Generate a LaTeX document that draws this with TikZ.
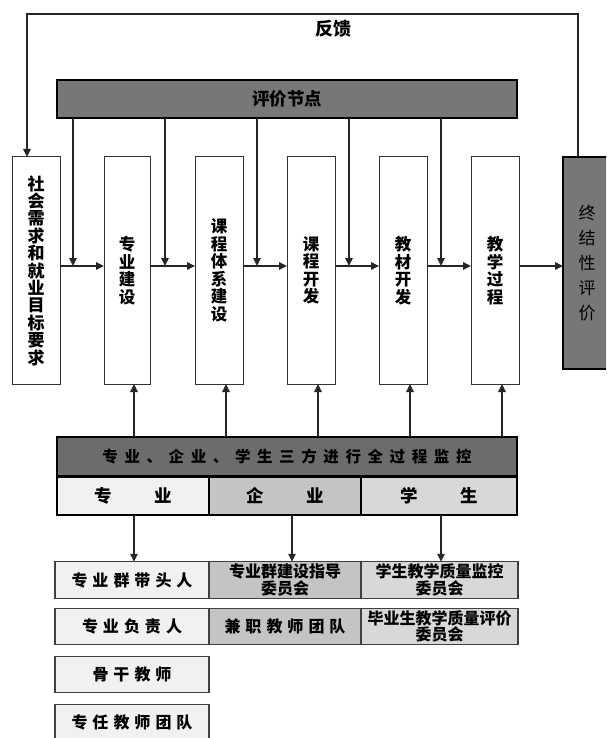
\documentclass[tikz,border=0pt]{standalone}
\usepackage{fontspec}
\setmainfont{Noto Sans CJK SC}
\usetikzlibrary{arrows.meta}
\definecolor{bardark}{HTML}{777777}
\definecolor{monidark}{HTML}{6C6C6C}
\definecolor{colA}{HTML}{F1F1F1}
\definecolor{colB}{HTML}{C4C4C4}
\definecolor{colC}{HTML}{D8D8D8}
\newcommand\spc[2]{\def\spcgap{#1}\spcloop#2\spcend}
\def\spcloop#1#2\spcend{#1\ifx\relax#2\relax\else\hspace{\spcgap}\spcloop#2\spcend\fi}
\begin{document}
\begin{tikzpicture}[x=1pt,y=-1pt,
  every node/.style={inner sep=0pt,outer sep=0pt},
  conn/.style={draw=black!85,line width=1.1pt,-{Triangle[length=8pt,width=7.5pt]}},
  vbox/.style={draw=black!80,line width=1pt,fill=white,minimum width=48pt,minimum height=227pt,align=center,font=\fontsize{16.5}{17.5}\selectfont\bfseries},
  darkbar/.style={draw=black,line width=2.5pt,minimum width=460pt,minimum height=38pt,font=\fontsize{17.5}{20}\selectfont\bfseries},
  subbox/.style={draw=black,line width=2pt,minimum height=38pt,font=\fontsize{17.5}{18}\selectfont\bfseries},
  cell/.style={draw=black!75,line width=1.2pt,minimum height=36.5pt,align=center,font=\fontsize{16}{16.5}\selectfont\bfseries},
  lbl/.style={font=\fontsize{18}{20}\selectfont\bfseries}]
\clip (0,0) rectangle (606,738);
\fill[white] (0,0) rectangle (606,738);
% coordinates
\coordinate (hy) at (0,266);
\coordinate (fbR) at (578,14);
\coordinate (fbL) at (27,14);
\coordinate (d1) at (73,266);
\coordinate (d2) at (165,266);
\coordinate (d3) at (257,266);
\coordinate (d4) at (349,266);
\coordinate (d5) at (441,266);
\coordinate (u1) at (134,0);
\coordinate (u2) at (226,0);
\coordinate (u3) at (318,0);
\coordinate (u4) at (410,0);
\coordinate (u5) at (502,0);
\coordinate (v2) at (292,0);
\coordinate (v3) at (441,0);
% top bar
\node[darkbar,fill=bardark] (T) at (287,99) {评价节点};
% process boxes
\node[vbox,font=\fontsize{17}{17.4}\selectfont\bfseries] (A) at (36,270.5) {社\\会\\需\\求\\和\\就\\业\\目\\标\\要\\求};
\node[vbox,minimum width=46pt] (B) at (127,270.5) {专\\业\\建\\设};
\node[vbox] (C) at (219,270.5) {课\\程\\体\\系\\建\\设};
\node[vbox] (D) at (311,270.5) {课\\程\\开\\发};
\node[vbox] (E) at (403,270.5) {教\\材\\开\\发};
\node[vbox] (F) at (495,270.5) {教\\学\\过\\程};
\node[vbox,fill=bardark,draw=black,line width=2pt,minimum height=211pt,font=\fontsize{17}{25}\selectfont] (G) at (587,263) {终\\结\\性\\评\\价};
% feedback
\node[lbl] (fb) at (333,29) {反馈};
\draw[conn] (G.north -| fbR) -- (fbR) -- (fbL) -- (A.north -| fbL);
% horizontal flow
\draw[conn] (A.east |- hy) -- (B.west |- hy);
\draw[conn] (B.east |- hy) -- (C.west |- hy);
\draw[conn] (C.east |- hy) -- (D.west |- hy);
\draw[conn] (D.east |- hy) -- (E.west |- hy);
\draw[conn] (E.east |- hy) -- (F.west |- hy);
\draw[conn] (F.east |- hy) -- (G.west |- hy);
% evaluation drops
\draw[conn] (T.south -| d1) -- (d1);
\draw[conn] (T.south -| d2) -- (d2);
\draw[conn] (T.south -| d3) -- (d3);
\draw[conn] (T.south -| d4) -- (d4);
\draw[conn] (T.south -| d5) -- (d5);
% monitor bar
\node[darkbar,fill=monidark,minimum height=39pt,font=\fontsize{15.5}{18}\selectfont\bfseries] (M) at (287,456.5) {\spc{6.6pt}{专业、企业、学生三方进行全过程监控}};
\draw[conn] (M.north -| u1) -- (B.south -| u1);
\draw[conn] (M.north -| u2) -- (C.south -| u2);
\draw[conn] (M.north -| u3) -- (D.south -| u3);
\draw[conn] (M.north -| u4) -- (E.south -| u4);
\draw[conn] (M.north -| u5) -- (F.south -| u5);
% sub row
\node[subbox,fill=colA,minimum width=152pt] (S1) at (133,496) {专\hspace{43pt}业};
\node[subbox,fill=colB,minimum width=152pt] (S2) at (285,496) {企\hspace{43pt}业};
\node[subbox,fill=colC,minimum width=156pt] (S3) at (439,496) {学\hspace{43pt}生};
% bottom table
\node[cell,fill=colA,minimum width=154pt] (R11) at (132,580) {\spc{5pt}{专业群带头人}};
\node[cell,fill=colB,minimum width=152pt,font=\fontsize{16}{16.5}\selectfont\bfseries] (R12) at (285,580) {专业群建设指导\\委员会};
\node[cell,fill=colC,minimum width=157pt,font=\fontsize{16}{16.5}\selectfont\bfseries] (R13) at (439.5,580) {学生教学质量监控\\委员会};
\node[cell,fill=colA,minimum width=154pt] (R21) at (132,626.5) {\spc{5pt}{专业负责人}};
\node[cell,fill=colB,minimum width=152pt] (R22) at (285,626.5) {\spc{5pt}{兼职教师团队}};
\node[cell,fill=colC,minimum width=157pt,font=\fontsize{16}{16.5}\selectfont\bfseries] (R23) at (439.5,626.5) {毕业生教学质量评价\\委员会};
\node[cell,fill=colA,minimum width=154pt] (R31) at (132,674.5) {\spc{5pt}{骨干教师}};
\node[cell,fill=colA,minimum width=154pt] (R41) at (132,722.5) {\spc{5pt}{专任教师团队}};
\draw[conn] (S1.south -| u1) -- (R11.north -| u1);
\draw[conn] (S2.south -| v2) -- (R12.north -| v2);
\draw[conn] (S3.south -| v3) -- (R13.north -| v3);
\end{tikzpicture}
\end{document}
